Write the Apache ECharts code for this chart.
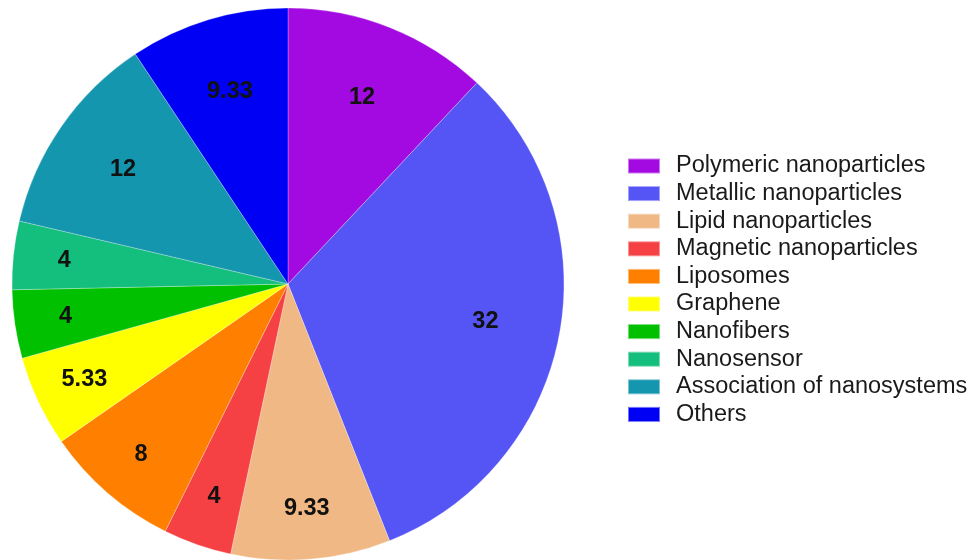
<!DOCTYPE html>
<html>
<head>
<meta charset="utf-8">
<script src="https://cdn.jsdelivr.net/npm/echarts@6/dist/echarts.min.js"></script>
<style>
  html, body { margin: 0; padding: 0; background: #fff; }
  #chart { width: 974px; height: 560px; }
</style>
</head>
<body>
<div id="chart"></div>
<script>
// Share of studies by nanosystem type (%)
const categories = [
  'Polymeric nanoparticles',
  'Metallic nanoparticles',
  'Lipid nanoparticles',
  'Magnetic nanoparticles',
  'Liposomes',
  'Graphene',
  'Nanofibers',
  'Nanosensor',
  'Association of nanosystems',
  'Others'
];
const values = [12, 32, 9.33, 4, 8, 5.33, 4, 4, 12, 9.33];
const colors = [
  '#A30AE1', '#5555F5', '#F0B884', '#F54044', '#FF8000',
  '#FFFF00', '#00C000', '#14BE7D', '#1496AF', '#0000F5'
];
// which value labels sit nearer the centre (the wide upper/right slices)
const labelNear = [true, true, false, false, false, false, false, false, true, true];

const center = [288, 284];
const R = 276;
const fontFamily = 'Liberation Sans, Arial, sans-serif';

const sliceData = categories.map((name, i) => ({
  name: name,
  value: values[i],
  itemStyle: { color: colors[i] }
}));

// transparent ring whose middle radius sets where the value labels sit
function labelRing(id, midRadius, near) {
  return {
    id: id,
    type: 'pie',
    center: center,
    radius: [2 * midRadius - R, R],
    startAngle: 90,
    clockwise: true,
    silent: true,
    legendHoverLink: false,
    itemStyle: { color: 'rgba(0,0,0,0)', borderWidth: 0 },
    emphasis: { disabled: true },
    labelLine: { show: false },
    label: {
      position: 'inside',
      formatter: p => String(p.value),
      fontFamily: fontFamily,
      fontWeight: 'bold',
      fontSize: 23.5,
      color: '#111'
    },
    data: categories.map((name, i) => ({
      name: name + ' ' + id,
      value: values[i],
      label: { show: labelNear[i] === near }
    }))
  };
}

const chart = echarts.init(document.getElementById('chart'), null, { renderer: 'canvas' });

chart.setOption({
  animation: false,
  backgroundColor: '#ffffff',
  legend: {
    orient: 'vertical',
    left: 622,
    top: 149,
    icon: 'rect',
    itemWidth: 32,
    itemHeight: 15,
    itemGap: 3.6,
    data: categories,
    textStyle: {
      fontFamily: fontFamily,
      fontSize: 23.5,
      lineHeight: 24,
      color: '#1a1a1a',
      padding: [0, 0, 0, 11]
    }
  },
  series: [
    {
      id: 'slices',
      type: 'pie',
      center: center,
      radius: [0, R],
      startAngle: 90,
      clockwise: true,
      label: { show: false },
      labelLine: { show: false },
      emphasis: { disabled: true },
      itemStyle: { borderColor: 'rgba(255,255,255,0.45)', borderWidth: 0.6 },
      data: sliceData
    },
    labelRing('near', 198, true),
    labelRing('far', 222, false)
  ]
});
</script>
</body>
</html>
